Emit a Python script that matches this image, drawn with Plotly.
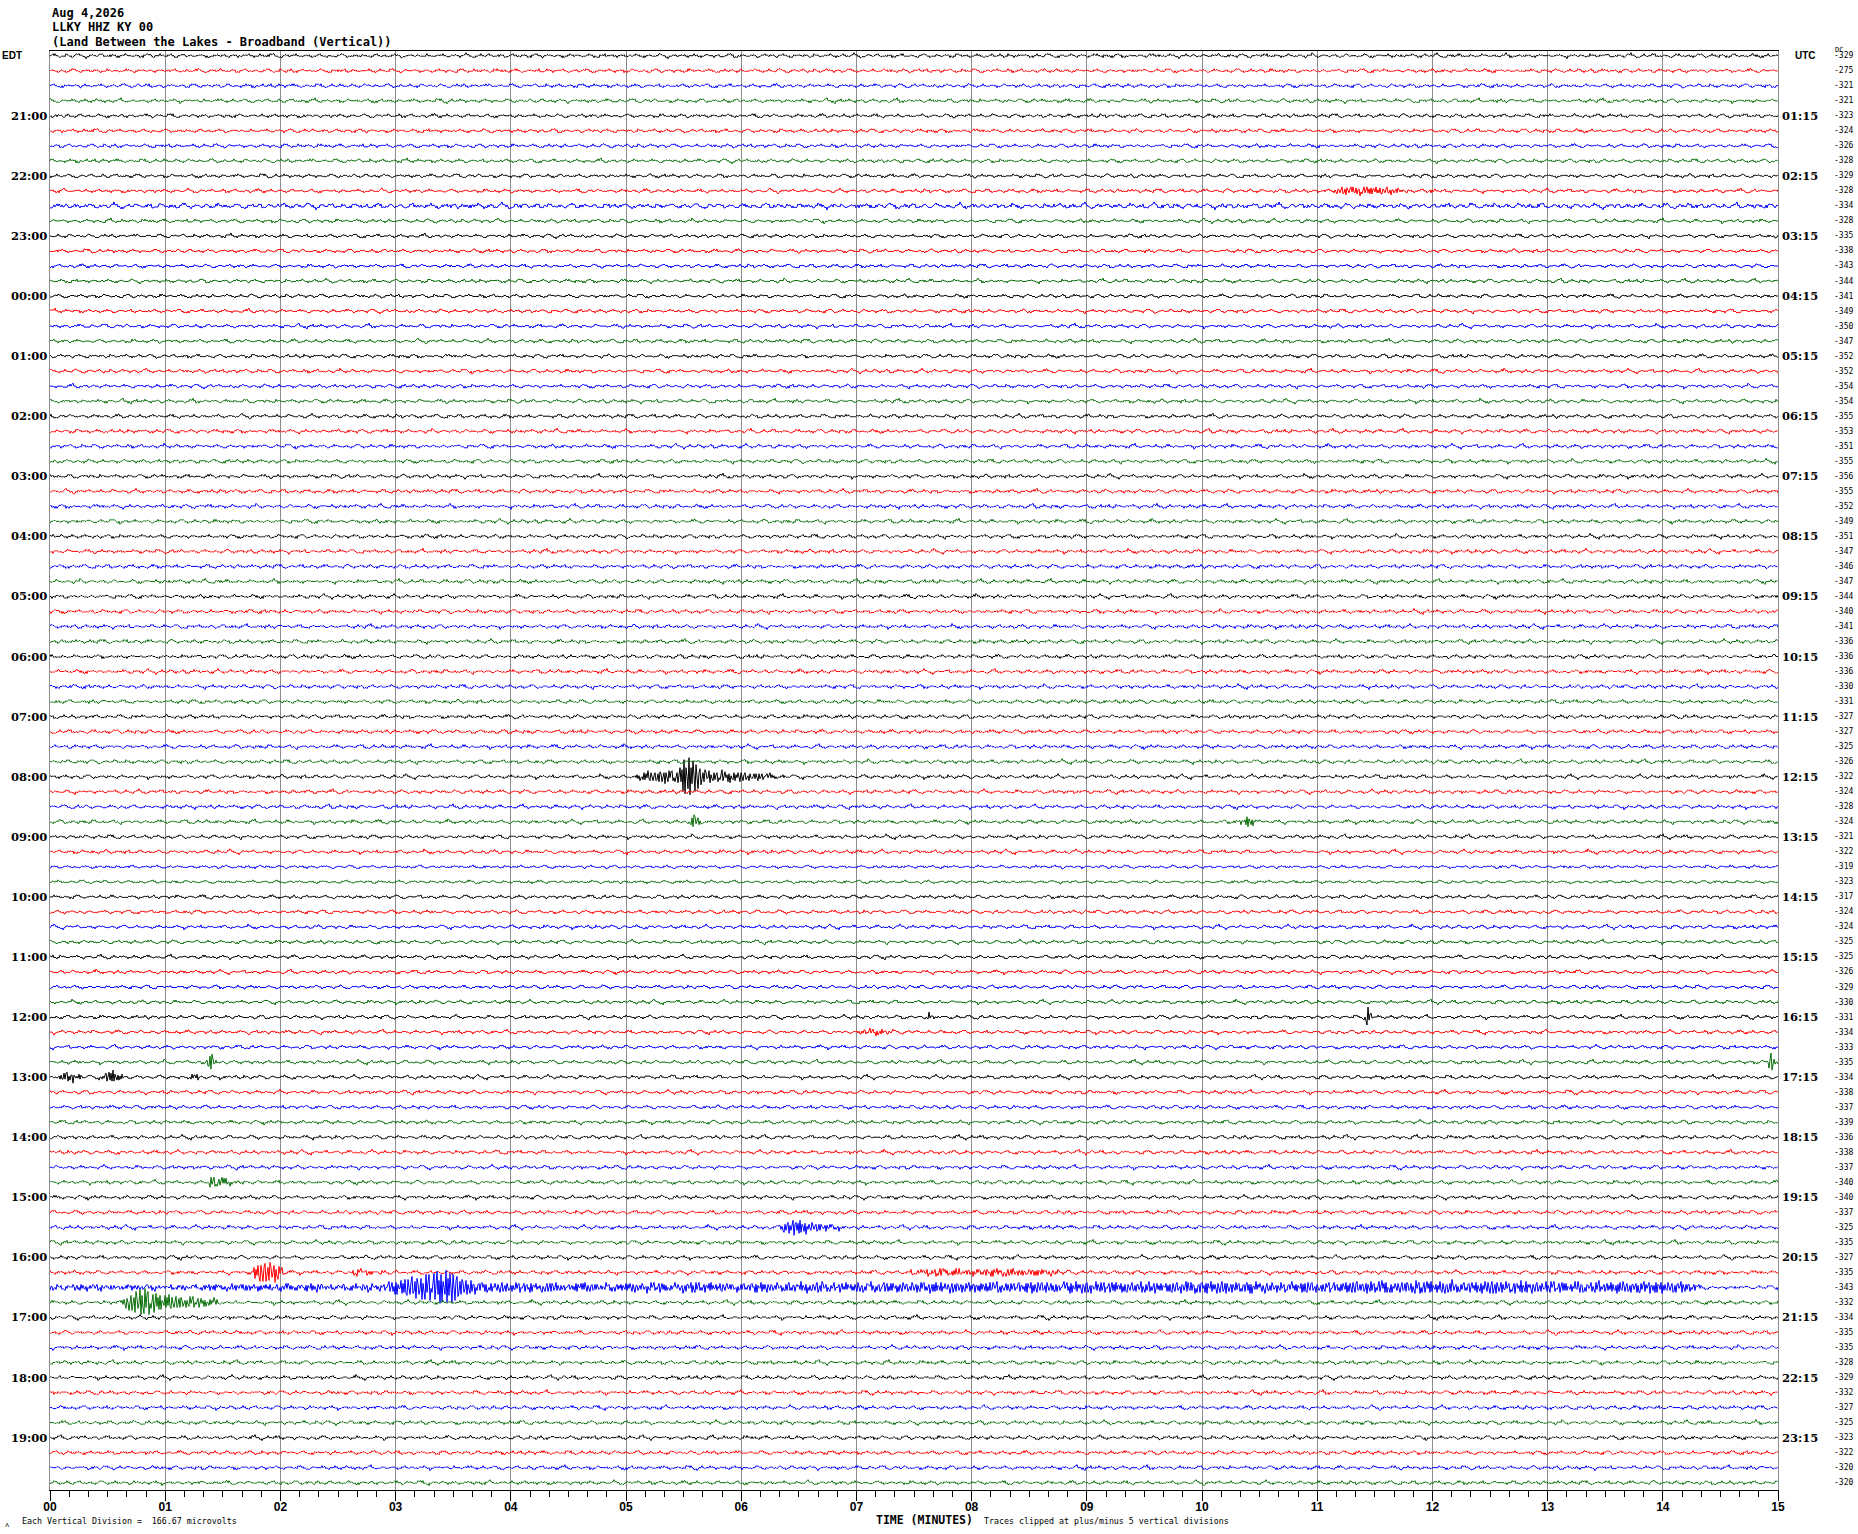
import numpy as np
import plotly.graph_objects as go

# ---------------- data ----------------
TITLE_LINES = ["Aug 4,2026", "LLKY HHZ KY 00",
               "(Land Between the Lakes - Broadband (Vertical))"]
N_TRACES = 96
TRACE_COLORS = ["#000000", "#ff0000", "#0000ff", "#0a700a"]
MINUTE_TICKS = list(range(16))
MINUTE_LABELS = ["00", "01", "02", "03", "04", "05", "06", "07",
                 "08", "09", "10", "11", "12", "13", "14", "15"]
EDT_LABELS = ["21:00", "22:00", "23:00", "00:00", "01:00", "02:00", "03:00", "04:00",
              "05:00", "06:00", "07:00", "08:00", "09:00", "10:00", "11:00", "12:00",
              "13:00", "14:00", "15:00", "16:00", "17:00", "18:00", "19:00"]
UTC_LABELS = ["01:15", "02:15", "03:15", "04:15", "05:15", "06:15", "07:15", "08:15",
              "09:15", "10:15", "11:15", "12:15", "13:15", "14:15", "15:15", "16:15",
              "17:15", "18:15", "19:15", "20:15", "21:15", "22:15", "23:15"]
DC_VALUES = [-329, -275, -321, -321, -323, -324, -326, -328, -329, -328, -334, -328,
             -335, -338, -343, -344, -341, -349, -350, -347, -352, -352, -354, -354,
             -355, -353, -351, -355, -356, -355, -352, -349, -351, -347, -346, -347,
             -344, -340, -341, -336, -336, -336, -330, -331, -327, -327, -325, -326,
             -322, -324, -328, -324, -321, -322, -319, -323, -317, -324, -324, -325,
             -325, -326, -329, -330, -331, -334, -333, -335, -334, -338, -337, -339,
             -336, -338, -337, -340, -340, -337, -325, -335, -327, -335, -343, -332,
             -334, -335, -335, -328, -329, -332, -327, -325, -323, -322, -320, -320]

# background wiggle shapes (pixel offsets) traced from the record
NOISE_A = [0, 2, 3, 1, -1, -3, -2, 0, 2, 1, -1, -2, 0, 3, 4, 2, -1, -3, -4, -2,
           1, 2, 0, -1, 1, 3, 2, -1, -2, -1, 0, 2, 1, -2, -3, -1, 1, 3, 2, 0,
           -1, -2, 0, 1, -1, -3, -2, 1, 3, 4, 1, -2, -3, -1, 0, 2, 1, -1, -2, 1,
           2, 0, -2, -3, -1, 2, 3, 1, -1, 0, 1, -1, -2, -1, 1, 3, 2, 0, -2, -4,
           -2, 0, 1, 2, 0, -1, 1, 2, -1, -3, -1, 2, 1, 0, -2, -1, 1]
NOISE_B = [1, -1, 0, 2, -2, 1, 0, -1, 2, -1, -2, 1, 1, -1, 0, -2, 2, 0, 1, -1,
           -1, 2, -2, 0, 1, 0, -1, 2, -1, 1, -2, 0, 2, -1, 0, 1, -2, 1, -1, 0,
           2, -2, 1, 0, -1, 1, 2, -1, -2, 0, 1, -1, 2, 0, -2, 1, -1, 1, 0, -1,
           2, -2, 0, 1, -1, 1, 0, -2, 2, -1, 1, 0, -1, 1, -2, 2, 0, -1, 1, -1,
           0, 2, -1, 1, -2, 0, 1, -1, 0]
BURST = [2, -1, 1, -2, 2, -2, 1, 0, -1, 2, -2, 1, -1, 2, -1, -2, 2, 0, -2, 1,
         2, -2, -1, 1, -2, 2, 1, -1, 0, 2, -2, 1, -1, -2, 2, -1, 1, 2, -2, 0,
         -1, 1, 2, -2, 1]
NOISE_SCALE = [1.0, 0.9, 0.9, 1.1, 0.9, 0.9, 0.9, 1.0, 0.9, 1.0, 1.3, 1.0,
               1.0, 0.9, 0.9, 1.0, 0.9, 1.0, 1.0, 1.0, 0.9, 1.0, 1.0, 1.0,
               1.1, 1.0, 1.0, 1.0, 1.1, 1.0, 1.0, 1.0, 1.0, 1.0, 0.9, 1.0,
               1.0, 1.0, 1.1, 1.0, 0.9, 1.0, 1.0, 0.9, 0.9, 0.9, 1.0, 1.0,
               1.0, 1.0, 1.0, 1.0, 1.0, 1.0, 0.8, 0.8, 0.9, 0.9, 1.0, 1.0,
               1.0, 1.0, 0.9, 1.0, 1.0, 1.0, 1.0, 1.0, 1.0, 1.0, 0.9, 1.0,
               1.0, 1.0, 1.0, 1.1, 1.1, 0.9, 1.0, 1.0, 1.1, 1.1, 1.1, 1.0,
               1.0, 1.0, 1.0, 1.0, 1.0, 1.0, 1.0, 1.0, 1.0, 0.9, 1.0, 1.0]

# events: trace index, envelope times (minutes), envelope amplitudes (pixels)
EVENT_TRACE = [48, 51, 51, 9, 9, 64, 64, 65, 67, 67, 68, 68, 68, 75, 78,
               81, 81, 81, 82, 83]
EVENT_TIMES = [
    [5.08, 5.16, 5.3, 5.45, 5.5, 5.54, 5.6, 5.66, 5.8, 5.92, 6.1, 6.3, 6.4],
    [5.54, 5.59, 5.66],
    [10.3, 10.4, 10.5],
    [11.05, 11.2, 11.6, 11.85],
    [11.95, 12.0, 12.05],
    [7.6, 7.63, 7.66],
    [11.4, 11.44, 11.48],
    [6.95, 7.1, 7.4],
    [1.35, 1.39, 1.45],
    [14.9, 14.94, 14.99],
    [0.06, 0.15, 0.3],
    [0.42, 0.52, 0.68],
    [1.2, 1.27, 1.33],
    [1.36, 1.4, 1.5, 1.7],
    [6.3, 6.45, 6.6, 6.98],
    [1.72, 1.8, 1.95, 2.05],
    [2.5, 2.7, 3.0],
    [7.3, 7.6, 8.0, 8.7, 9.0],
    [0.0, 2.9, 3.0, 3.3, 3.45, 3.55, 3.7, 5.0, 8.0, 11.5, 12.0, 14.2, 14.38],
    [0.6, 0.7, 0.8, 0.9, 1.1, 1.4, 1.5],
]
EVENT_AMPS = [
    [0, 4, 5, 6, 16, 20, 13, 7, 5, 4, 3, 2, 0],
    [0, 7, 0],
    [0, 4, 0],
    [0, 3, 3, 0],
    [0, 3, 0],
    [0, 4, 0],
    [0, 10, 0],
    [0, 3, 0],
    [0, 10, 0],
    [0, 9, 0],
    [0, 5, 0],
    [0, 6, 0],
    [0, 3, 0],
    [0, 5, 3, 0],
    [0, 7, 4, 0],
    [0, 8, 10, 0],
    [0, 2.5, 0],
    [0, 2.5, 2, 2.5, 0],
    [1.5, 2.5, 6, 12, 16, 10, 4, 3, 4, 4.5, 5, 4, 0],
    [0, 8, 14, 9, 5, 3, 0],
]

# ---------------- layout geometry ----------------
W, H = 1858, 1534
L, R, T, B = 50, 1778, 51, 1490
PX_PER_TRACE = 15.02
Y_TOP = (55.7 - T) / PX_PER_TRACE
Y_BOT = -(N_TRACES - 1) - (B - 1482.7) / PX_PER_TRACE


def px_x(x):
    return (x - L) / (R - L)


def px_y(y):
    return (B - y) / (B - T)


N_SAMP = R - L + 1
t = np.linspace(0, 15, N_SAMP)
idx = np.arange(N_SAMP)
A = np.array(NOISE_A, float)
Bn = np.array(NOISE_B, float)
C = np.array(BURST, float)

xs = {c: [] for c in range(4)}
ys = {c: [] for c in range(4)}
for i in range(N_TRACES):
    pxv = (0.45 * A[(idx // 2 + 37 * i) % len(A)]
           + 0.45 * Bn[(idx + 53 * i) % len(Bn)]) * NOISE_SCALE[i]
    for k, tr in enumerate(EVENT_TRACE):
        if tr == i:
            env = np.interp(t, EVENT_TIMES[k], EVENT_AMPS[k], left=0, right=0)
            pxv = pxv + env * C[(idx + 11 * k) % len(C)] / 2.0
    yv = -i + np.round(pxv) / PX_PER_TRACE
    c = i % 4
    xs[c].append(t)
    xs[c].append([np.nan])
    ys[c].append(yv)
    ys[c].append([np.nan])

fig = go.Figure()
for c in range(4):
    fig.add_trace(go.Scatter(
        x=np.concatenate(xs[c]), y=np.concatenate(ys[c]), mode="lines",
        line=dict(color=TRACE_COLORS[c], width=1), hoverinfo="skip",
        connectgaps=False, showlegend=False))

ann = []
mono = "DejaVu Sans Mono"
for k, line in enumerate(TITLE_LINES):
    ann.append(dict(x=px_x(50), y=px_y(13 + 14.5 * k), text="<b>%s</b>" % line,
                    xanchor="left", yanchor="middle",
                    font=dict(family=mono, size=12, color="black")))
ann.append(dict(x=px_x(0), y=px_y(56), text="<b>EDT</b>", xanchor="left", yanchor="middle",
                font=dict(family="Liberation Sans", size=10, color="black")))
ann.append(dict(x=px_x(1793), y=px_y(56), text="<b>UTC</b>", xanchor="left", yanchor="middle",
                font=dict(family="Liberation Sans", size=10, color="black")))
ann.append(dict(x=px_x(1833), y=px_y(50), text="DC", xanchor="left", yanchor="middle",
                font=dict(family=mono, size=7, color="black")))
for k in range(23):
    row = 4 * (k + 1)
    ann.append(dict(x=px_x(49), xref="paper", y=-row, yref="y", text="<b>%s</b>" % EDT_LABELS[k],
                    xanchor="right", yanchor="middle",
                    font=dict(family="DejaVu Serif", size=11.5, color="black")))
    ann.append(dict(x=px_x(1780), xref="paper", y=-row, yref="y", text="<b>%s</b>" % UTC_LABELS[k],
                    xanchor="left", yanchor="middle",
                    font=dict(family="DejaVu Serif", size=11.5, color="black")))
for i in range(N_TRACES):
    ann.append(dict(x=px_x(1832), xref="paper", y=-i, yref="y", text=str(DC_VALUES[i]),
                    xanchor="left", yanchor="middle",
                    font=dict(family=mono, size=8, color="black")))
ann.append(dict(x=px_x(3), y=px_y(1525), text="\u028c", xanchor="left", yanchor="middle",
                font=dict(family=mono, size=7, color="black")))
ann.append(dict(x=px_x(20), y=px_y(1521),
                text="Each Vertical Division =\u00a0\u00a0166.67 microvolts",
                xanchor="left", yanchor="middle", font=dict(family=mono, size=8.3, color="black")))
ann.append(dict(x=px_x(924), y=px_y(1519.5), text="<b>TIME (MINUTES)</b>",
                xanchor="center", yanchor="middle", font=dict(family=mono, size=11.5, color="black")))
ann.append(dict(x=px_x(982), y=px_y(1521),
                text="Traces clipped at plus/minus 5 vertical divisions",
                xanchor="left", yanchor="middle", font=dict(family=mono, size=8.3, color="black")))
for a in ann:
    a.setdefault("xref", "paper")
    a.setdefault("yref", "paper")
    a["showarrow"] = False

fig.update_layout(
    width=W, height=H, margin=dict(l=L, r=W - R, t=T, b=H - B, pad=0),
    plot_bgcolor="white", paper_bgcolor="white", showlegend=False,
    annotations=ann,
    xaxis=dict(range=[0, 15], tickvals=MINUTE_TICKS, ticktext=MINUTE_LABELS,
               ticks="outside", ticklen=10, tickcolor="black", tickwidth=1,
               ticklabelstandoff=-4,
               showgrid=True, gridcolor="#8c8c8c", gridwidth=1, zeroline=False,
               showline=True, linecolor="black", linewidth=1, mirror=True,
               tickfont=dict(family="Liberation Sans", size=12, color="black", weight="bold"),
               minor=dict(dtick=1 / 6, tick0=0, ticks="outside", ticklen=6,
                          tickcolor="black", tickwidth=1, showgrid=False)),
    yaxis=dict(range=[Y_BOT, Y_TOP], showticklabels=False, ticks="", showgrid=False,
               zeroline=False, showline=True, linecolor="#8c8c8c", linewidth=1, mirror=True),
)

fig.write_html("out.html", config={"displayModeBar": False},
               post_script="document.body.style.margin='0';")
